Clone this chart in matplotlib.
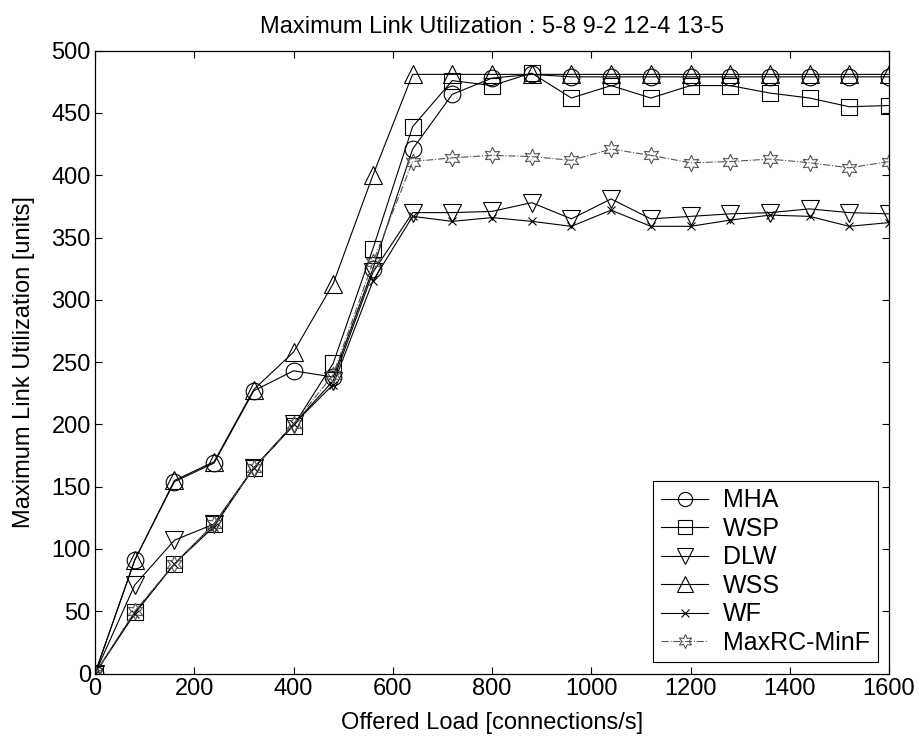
import matplotlib
matplotlib.use("Agg")
import matplotlib.pyplot as plt
import numpy as np

plt.rcParams['font.family'] = ['Liberation Sans', 'DejaVu Sans']

# offered load [connections/s]
load = [0, 80, 160, 240, 320, 400, 480, 560, 640, 720, 800,
        880, 960, 1040, 1120, 1200, 1280, 1360, 1440, 1520, 1600]

mha = [0, 91, 154, 169, 227, 243, 238, 325, 421, 465, 478,
       481, 479, 479, 479, 479, 479, 479, 479, 479, 479]
wsp = [0, 49, 88, 120, 165, 199, 249, 341, 439, 476, 472,
       482, 462, 472, 462, 472, 472, 466, 462, 455, 456]
dlw = [0, 71, 107, 120, 165, 200, 235, 322, 370, 370, 371,
       378, 365, 381, 365, 367, 369, 370, 373, 370, 369]
wss = [0, 91, 155, 170, 228, 258, 313, 400, 481, 481, 481,
       481, 481, 481, 481, 481, 481, 481, 481, 481, 481]
wf = [0, 48, 88, 118, 165, 200, 232, 315, 367, 363, 366,
      363, 359, 372, 359, 359, 364, 368, 367, 359, 362]
maxrc = [0, 50, 88, 120, 165, 200, 240, 330, 411, 414, 416,
         415, 412, 421, 416, 410, 411, 413, 410, 406, 411]

fig = plt.figure(figsize=(9.19, 7.40), dpi=100)
ax = fig.add_axes([95/919, 1 - 673.5/740, 794/919, 622.8/740])

fs = 17
ms = 12
ax.plot(load, mha, '-', color='black', lw=0.8, marker='o', ms=ms, mfc='none', mew=0.8, label='MHA')
ax.plot(load, wsp, '-', color='black', lw=0.8, marker='s', ms=ms, mfc='none', mew=0.8, label='WSP')
ax.plot(load, dlw, '-', color='black', lw=0.8, marker='v', ms=ms + 1, mfc='none', mew=0.8, label='DLW')
ax.plot(load, wss, '-', color='black', lw=0.8, marker='^', ms=ms + 1, mfc='none', mew=0.8, label='WSS')
ax.plot(load, wf, '-', color='black', lw=0.8, marker='x', ms=6, mew=0.8, label='WF')
ax.plot(load, maxrc, '-.', color='#555555', lw=0.8, marker=(6, 1, 0), ms=ms, mfc='none', mew=0.8,
        label='MaxRC-MinF')

ax.set_xlim(0, 1600)
ax.set_ylim(0, 500)
ax.set_xticks(np.arange(0, 1601, 200))
ax.set_yticks(np.arange(0, 501, 50))
ax.tick_params(direction='in', top=True, right=True, labelsize=fs, length=5, width=0.8, pad=3)
for s in ax.spines.values():
    s.set_linewidth(0.9)

ax.set_xlabel('Offered Load [connections/s]', fontsize=fs, labelpad=9)
ax.set_ylabel('Maximum Link Utilization [units]', fontsize=fs, labelpad=12)
ax.set_title('Maximum Link Utilization : 5-8 9-2 12-4 13-5', fontsize=fs, pad=13)

leg = ax.legend(loc='lower right', fontsize=18, fancybox=False, framealpha=1,
                edgecolor='black', handlelength=1.9, handletextpad=0.6, markerscale=0.85,
                borderaxespad=0.45, labelspacing=0.18, borderpad=0.3)
leg.get_frame().set_linewidth(0.8)

fig.savefig('out.png', dpi=100)
